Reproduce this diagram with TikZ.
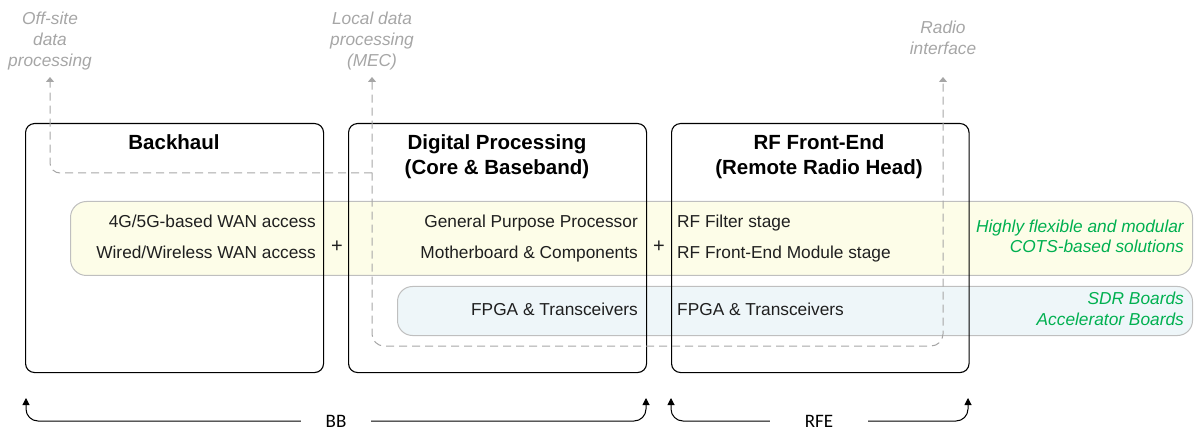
\documentclass[tikz,border=0pt]{standalone}
\usepackage{fontspec}
\setmainfont{Liberation Sans}
\newfontfamily\calibfont{Carlito}
\usetikzlibrary{arrows.meta}
\definecolor{bandY}{HTML}{FDFDE8}
\definecolor{bandB}{HTML}{EEF6F9}
\definecolor{bandLine}{HTML}{BFBFBF}
\definecolor{dashGray}{HTML}{A6A6A6}
\definecolor{lblGray}{HTML}{A6A6A6}
\definecolor{ofGreen}{HTML}{00B050}
\definecolor{txtDark}{HTML}{1F1F1F}
\newcommand{\mlinesC}[1]{\begin{tabular}[t]{@{}c@{}}#1\end{tabular}}
\newcommand{\mlinesR}[1]{\begin{tabular}[t]{@{}r@{}}#1\end{tabular}}
\begin{document}
\begin{tikzpicture}[x=1pt,y=-1pt,
  blockbox/.style={draw=black, line width=1.1pt, rounded corners=9pt, anchor=north west, inner sep=0pt, minimum width=298pt, minimum height=249pt},
  bandbox/.style={draw=bandLine, line width=1pt, rounded corners=16pt, anchor=north west, inner sep=0pt},
  titletxt/.style={font=\fontsize{20.5}{25}\selectfont\bfseries, text=black, inner sep=0pt, anchor=base},
  bodytxt/.style={font=\fontsize{17.3}{21}\selectfont, text=txtDark, inner sep=0pt},
  plustxt/.style={font=\fontsize{20}{21}\selectfont, text=txtDark, inner sep=0pt},
  graytxt/.style={font=\fontsize{17.3}{21}\selectfont\itshape, text=lblGray, inner sep=0pt, anchor=base},
  greentxt/.style={font=\fontsize{17.3}{20}\selectfont\itshape, text=ofGreen, inner sep=0pt, anchor=base east},
  spantxt/.style={font=\fontsize{19}{22}\calibfont, text=black, inner sep=0pt},
  dashline/.style={draw=dashGray, line width=1pt, dash pattern=on 8pt off 5pt},
  graytip/.style={-{Triangle[length=5pt,width=8pt]}},
  spanarrow/.style={draw=black, line width=1pt, rounded corners=12pt, -{Triangle[length=7pt,width=7pt]}}
]
\useasboundingbox (0,0) rectangle (1194,430);

% bands
\node[bandbox, fill=bandY, minimum width=1122pt, minimum height=74pt] (yband) at (70,201) {};
\node[bandbox, fill=bandB, minimum width=795pt, minimum height=49pt, rounded corners=15pt] (bband) at (397,286) {};

% blocks
\node[blockbox] (bh) at (25,123) {};
\node[blockbox] (dp) at (348,123) {};
\node[blockbox, minimum width=297.5pt] (rf) at (671,123) {};

% dashed connectors
\coordinate (offtip) at (50,77);
\coordinate (mectip) at (372,77);
\coordinate (radtip) at (943,77);
\coordinate (join) at (372,173);
\coordinate (loopmid) at (650,346);
\draw[dashline, graytip, rounded corners=10pt] (join) -| (offtip);
\draw[dashline, {Triangle[length=5pt,width=8pt]}-{Triangle[length=5pt,width=8pt]}, rounded corners=12pt] (mectip) |- (loopmid) -| (radtip);

% titles
\node[titletxt] (bhT) at (174,150) {Backhaul};
\node[titletxt] (dpT) at (497,150) {\mlinesC{Digital Processing\\(Core \& Baseband)}};
\node[titletxt] (rfT) at (819,150) {\mlinesC{RF Front-End\\(Remote Radio Head)}};

% top labels
\node[graytxt] (offL) at (50,24.5) {\mlinesC{Off-site\\data\\processing}};
\node[graytxt] (mecL) at (372,24.5) {\mlinesC{Local data\\processing\\(MEC)}};
\node[graytxt] (radL) at (943,34) {\mlinesC{Radio\\interface}};

% yellow band texts
\node[bodytxt, anchor=base east] (t1) at (316,228) {4G/5G-based WAN access};
\node[bodytxt, anchor=base east] (t2) at (316,258.5) {Wired/Wireless WAN access};
\node[plustxt] (plus1) at (337,247) {+};
\node[bodytxt, anchor=base east] (t3) at (638,228) {General Purpose Processor};
\node[bodytxt, anchor=base east] (t4) at (638,258.5) {Motherboard \& Components};
\node[plustxt] (plus2) at (659,247) {+};
\node[bodytxt, anchor=base west] (t5) at (677,228) {RF Filter stage};
\node[bodytxt, anchor=base west] (t6) at (677,258.5) {RF Front-End Module stage};
\node[greentxt] (g1) at (1184,233) {\mlinesR{Highly flexible and modular\\COTS-based solutions}};

% blue band texts
\node[bodytxt, anchor=base east] (f1) at (638,316) {FPGA \& Transceivers};
\node[bodytxt, anchor=base west] (f2) at (677,316) {FPGA \& Transceivers};
\node[greentxt, font=\fontsize{17.3}{21}\selectfont\itshape] (g2) at (1184,305) {\mlinesR{SDR Boards\\Accelerator Boards}};

% bottom spans
\node[spantxt, minimum width=70pt] (bb) at (336,421) {BB};
\node[spantxt, minimum width=98pt] (rfe) at (819,421) {RFE};
\coordinate (bbL) at (26,398);
\coordinate (bbR) at (646,398);
\coordinate (rfeL) at (671,398);
\coordinate (rfeR) at (968,398);
\draw[spanarrow] (bb.west) -| (bbL);
\draw[spanarrow] (bb.east) -| (bbR);
\draw[spanarrow] (rfe.west) -| (rfeL);
\draw[spanarrow] (rfe.east) -| (rfeR);
\end{tikzpicture}
\end{document}
